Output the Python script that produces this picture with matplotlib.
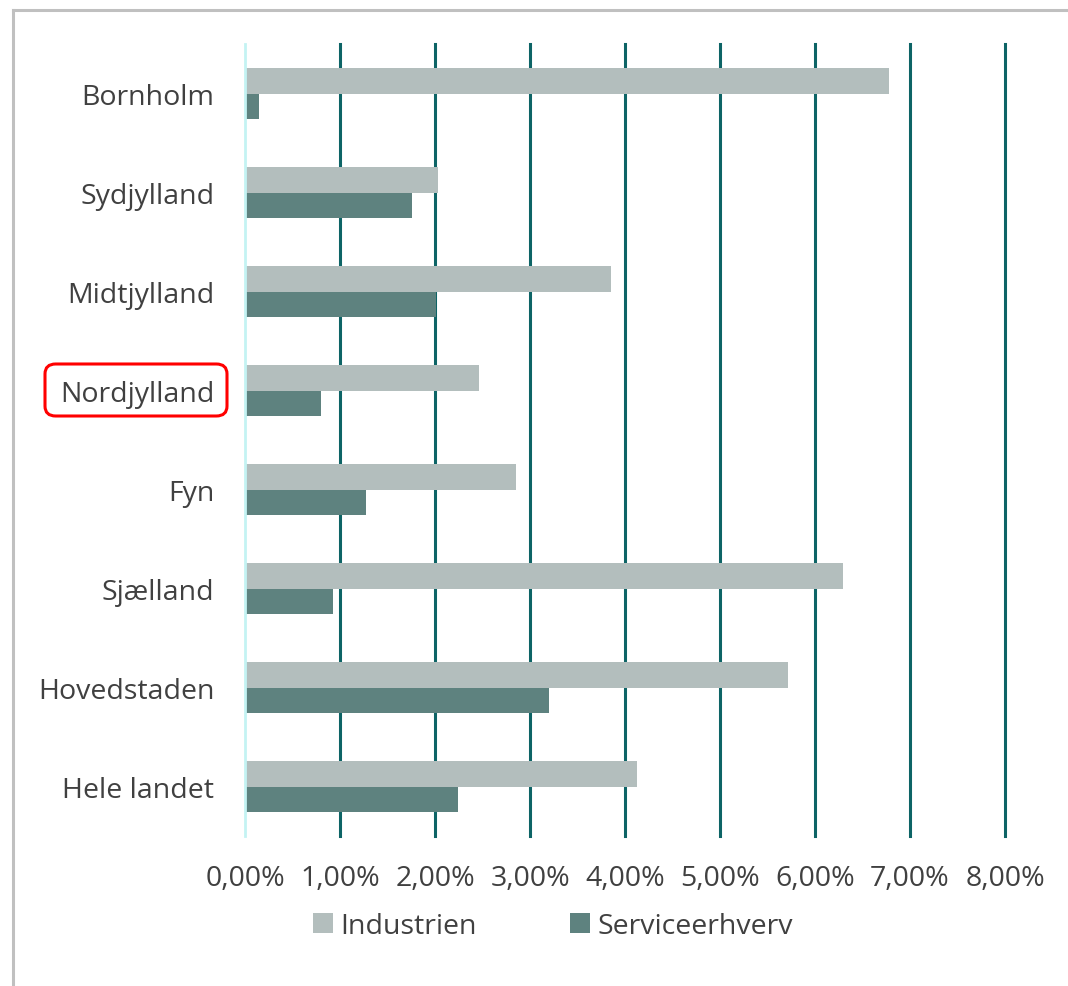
import matplotlib
matplotlib.use("Agg")
import matplotlib.pyplot as plt
from matplotlib.patches import FancyBboxPatch
from matplotlib.lines import Line2D
from matplotlib.ticker import FuncFormatter
import numpy as np

plt.rcParams['font.family'] = ['Open Sans', 'DejaVu Sans']

regions = ["Bornholm", "Sydjylland", "Midtjylland", "Nordjylland", "Fyn",
           "Sjælland", "Hovedstaden", "Hele landet"]
industrien = [6.78, 2.03, 3.85, 2.46, 2.85, 6.29, 5.72, 4.13]
service = [0.15, 1.76, 2.01, 0.80, 1.27, 0.93, 3.20, 2.24]
xticks = [0, 1, 2, 3, 4, 5, 6, 7, 8]

c_ind = "#b3bebd"
c_srv = "#5e827f"
c_grid = "#0d6466"
c_txt = "#404040"
fs = 20.5

fig = plt.figure(figsize=(10.68, 9.87), dpi=100)
ax = fig.add_axes([245/1068, 1-837/987, (1005-245)/1068, (837-45)/987])

y = np.arange(len(regions))
h = 0.26
ax.barh(y - h/2, industrien, height=h, color=c_ind, label="Industrien", zorder=3)
ax.barh(y + h/2, service, height=h, color=c_srv, label="Serviceerhverv", zorder=3)

ax.set_ylim(len(regions) - 0.5, -0.5)
ax.set_xlim(0, 8)
ax.set_yticks(y)
ax.set_yticklabels(regions, fontsize=fs, color=c_txt)
ax.set_xticks(xticks)
ax.xaxis.set_major_formatter(FuncFormatter(lambda v, p: f"{v:.2f}".replace(".", ",") + "%"))
ax.tick_params(axis='x', labelsize=fs, labelcolor=c_txt, length=0, pad=20)
ax.tick_params(axis='y', length=0, pad=22)

for xv in xticks[1:]:
    ax.axvline(xv, color=c_grid, lw=2.2, zorder=2, clip_on=False)

for s in ["top", "right", "bottom"]:
    ax.spines[s].set_visible(False)
ax.spines["left"].set_color("#c4f3f3")
ax.spines["left"].set_linewidth(2)
ax.spines["left"].set_zorder(4)

leg = fig.legend(loc="center", bbox_to_anchor=(553/1068, 1-927/987), ncol=2,
                 frameon=False, fontsize=fs, handlelength=0.7, handleheight=0.7,
                 columnspacing=3.3, handletextpad=0.25)
for t in leg.get_texts():
    t.set_color(c_txt)

# outer border (top and left edges only)
fig.add_artist(Line2D([12.5/1068, 1], [1-10.5/987, 1-10.5/987], transform=fig.transFigure,
                      color="#c0c0c0", lw=2.2))
fig.add_artist(Line2D([12.5/1068, 12.5/1068], [0, 1-10.5/987], transform=fig.transFigure,
                      color="#c0c0c0", lw=2.2))
# highlight box around Nordjylland
fig.patches.append(FancyBboxPatch((45/1068, 1-417/987), (227-45)/1068, (417-365)/987,
                                  boxstyle="round,pad=0,rounding_size=0.01",
                                  transform=fig.transFigure, fill=False,
                                  edgecolor="#ff0000", lw=2.2))

fig.savefig("out.png", dpi=100)
